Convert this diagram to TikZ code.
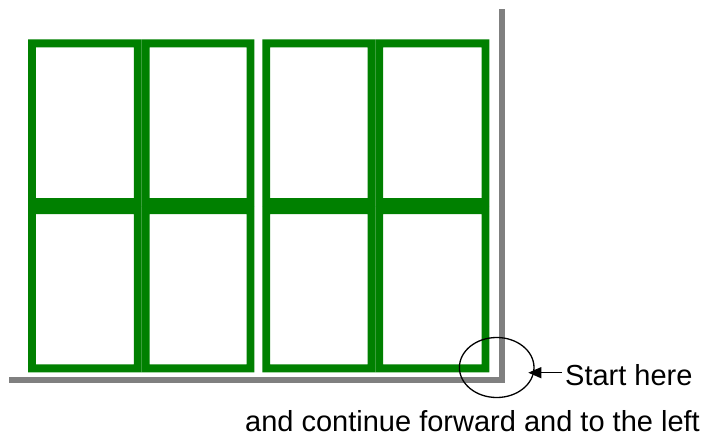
\documentclass[tikz,border=0pt]{standalone}
\usepackage{fontspec}
\setmainfont{Liberation Sans}
\usetikzlibrary{arrows.meta,shapes.geometric}
\definecolor{panelgreen}{HTML}{008000}
\definecolor{wallgray}{HTML}{808080}
\tikzset{
  panel/.style={fill=panelgreen, even odd rule},
  wall/.style={draw=wallgray, line width=5.8pt, line join=miter},
  lbl/.style={inner sep=0pt, anchor=base west, font=\fontsize{29}{34}\selectfont},
  marker/.style={draw=black, line width=1.3pt, ellipse, minimum width=74.6pt, minimum height=60pt, inner sep=0pt},
  pointer/.style={draw=black, line width=1.3pt, -{Triangle[length=13pt,width=11pt]}}
}
\newcommand{\mypanel}[4]{%
  \path[panel] (#1,#2) rectangle (#3,#4) ([xshift=7.8pt,yshift=-8pt]#1,#2) rectangle ([xshift=-7.8pt,yshift=8pt]#3,#4);}
\begin{document}
\begin{tikzpicture}[x=1pt,y=-1pt]
\useasboundingbox (0,0) rectangle (720,434);
% top row
\mypanel{28}{39.3}{141.7}{206}
\mypanel{141.7}{39.3}{254.3}{206}
\mypanel{262.3}{39.3}{375.3}{206}
\mypanel{375.3}{39.3}{489.3}{206}
% bottom row
\mypanel{28}{206}{141.7}{372.3}
\mypanel{141.7}{206}{254.3}{372.3}
\mypanel{262.3}{206}{375.3}{372.3}
\mypanel{375.3}{206}{489.3}{372.3}
% wall
\draw[wall] (502,9) -- (502,380) -- (9,380);
% marker and labels
\node[marker] (ring) at (496.7,367.5) {};
\node[lbl] (start) at (565,385) {Start here};
\node[lbl] (cont) at (245,431) {and continue forward and to the left};
\coordinate (tail) at (562,372.7);
\coordinate (tip) at (528.3,372.7);
\draw[pointer] (tail) -- (tip);
\end{tikzpicture}
\end{document}
